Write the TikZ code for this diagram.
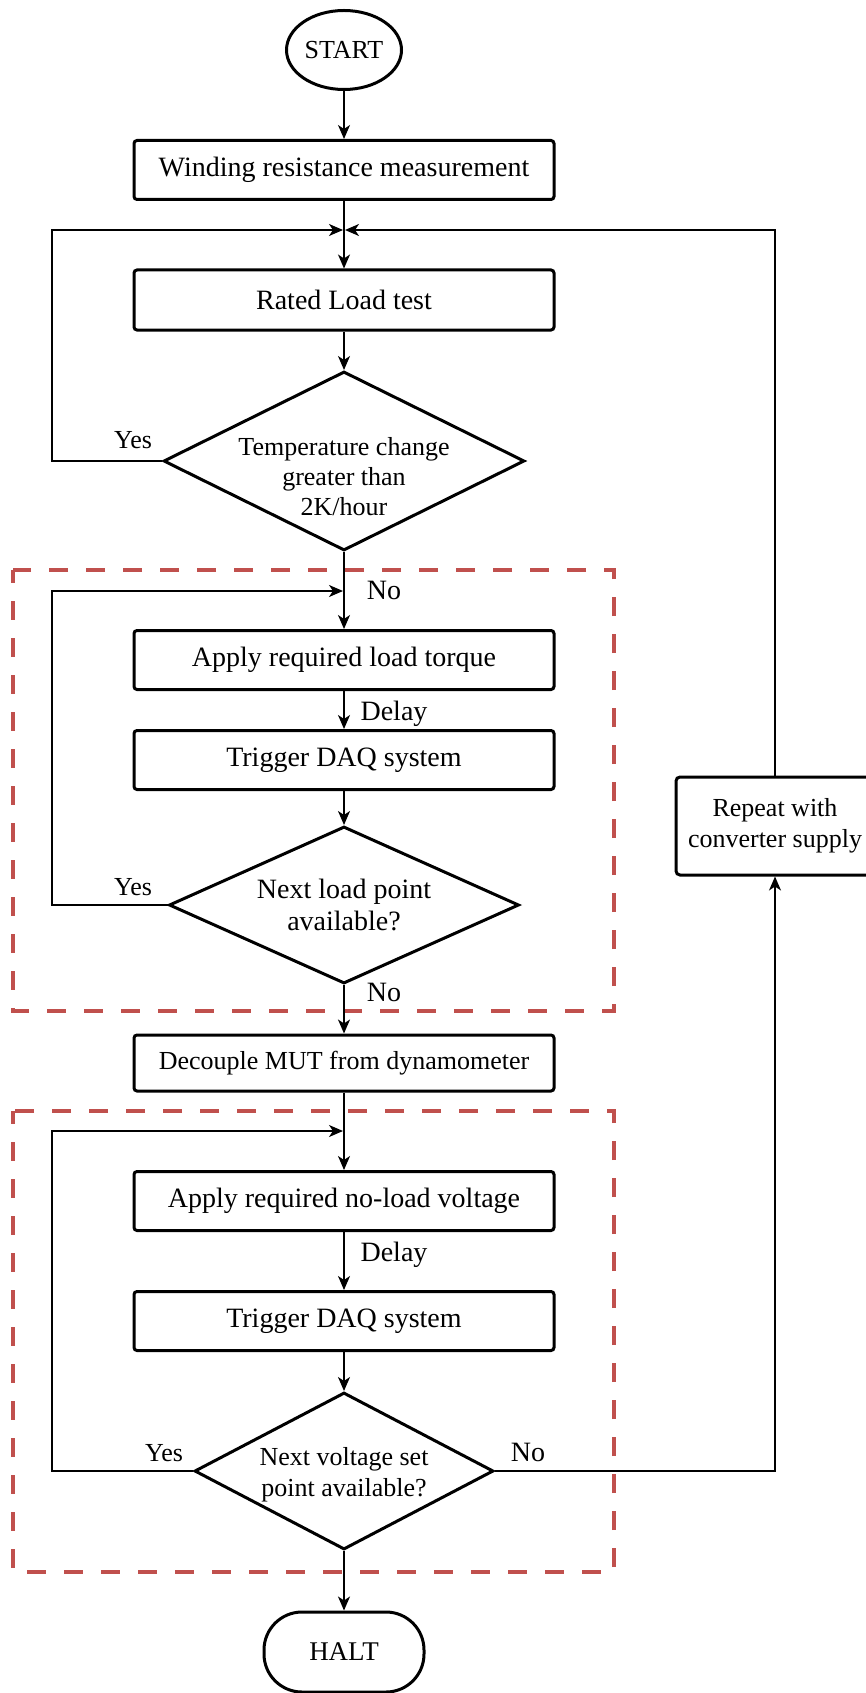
\documentclass[tikz,border=0pt]{standalone}
\usepackage{fontspec}
\setmainfont{Liberation Serif}
\usetikzlibrary{arrows.meta,shapes.geometric}
\definecolor{dashred}{HTML}{C0504D}
\begin{document}
\begin{tikzpicture}[x=1pt,y=-1pt,
  every node/.style={font=\fontsize{28}{32}\selectfont},
  procbox/.style={draw, line width=3pt, rounded corners=3pt, minimum width=420pt, minimum height=59pt, inner sep=0pt},
  decbox/.style={draw, diamond, line width=3pt, inner sep=0pt},
  dtext/.style={align=center, inner sep=0pt},
  small/.style={font=\fontsize{26}{31}\selectfont},
  conn/.style={line width=1.6pt, -{Stealth[length=14pt,width=12pt,inset=4pt]}},
  grp/.style={draw=dashred, line width=4.5pt, dash pattern=on 19pt off 18pt, dash phase=6pt},
  lbl/.style={anchor=base, inner sep=0pt},
  ]
\useasboundingbox (0,0) rectangle (865,1693);

% dashed groups
\draw[grp] (13,570) rectangle (614,1011);
\draw[grp] (13,1111) rectangle (614,1572);

% nodes
\node[draw, ellipse, line width=3pt, minimum width=115pt, minimum height=79pt, inner sep=0pt, small] (start) at (344,50) {START};
\node[procbox] (b1) at (344,170) {Winding resistance measurement};
\node[procbox, minimum height=60pt] (b2) at (344,300) {Rated Load test};
\node[decbox, minimum width=361pt, minimum height=179pt] (d1) at (344,461) {};
\node[dtext, font=\fontsize{26}{30}\selectfont] (t1) at (344,477) {Temperature change\\greater than\\2K/hour};
\node[procbox] (b3) at (344,660) {Apply required load torque};
\node[procbox] (b4) at (344,760) {Trigger DAQ system};
\node[decbox, minimum width=350pt, minimum height=157pt] (d2) at (344,905) {};
\node[dtext] (t2) at (344,905) {Next load point\\available?};
\node[procbox, minimum height=56pt, small] (b5) at (344,1063) {Decouple MUT from dynamometer};
\node[procbox] (b6) at (344,1201) {Apply required no-load voltage};
\node[procbox] (b7) at (344,1321) {Trigger DAQ system};
\node[decbox, minimum width=299pt, minimum height=157pt] (d3) at (344,1471) {};
\node[dtext, small] (t3) at (344,1475) {Next voltage set\\point available?};
\node[draw, line width=3pt, rounded corners=38pt, minimum width=160pt, minimum height=80pt, inner sep=0pt, font=\fontsize{27}{31}\selectfont] (halt) at (344,1652) {HALT};
\node[draw, line width=3pt, rounded corners=4pt, minimum width=198pt, minimum height=98pt, inner sep=0pt, align=center, small] (rep) at (775,826) {Repeat with\\converter supply};

% junction coordinates
\coordinate (j1) at (344,230);
\coordinate (j2) at (344,591);
\coordinate (j3) at (344,1131);
\coordinate (c1) at (52,230);
\coordinate (c3) at (52,591);
\coordinate (c4) at (52,1131);

% connectors
\draw[conn] (start) -- (b1);
\draw[conn] (b1) -- (b2);
\draw[conn] (b2) -- (d1);
\draw[conn, shorten >=1pt] (d1.west) -| (c1) -- (j1);
\draw[conn, shorten >=1pt] (rep.north) |- (j1);
\draw[conn] (d1.south) -- (b3);
\draw[conn, shorten >=1pt] (d2.west) -| (c3) -- (j2);
\draw[conn] (b3) -- (b4);
\draw[conn] (b4) -- (d2);
\draw[conn] (d2) -- (b5);
\draw[conn] (b5) -- (b6);
\draw[conn, shorten >=1pt] (d3.west) -| (c4) -- (j3);
\draw[conn] (b6) -- (b7);
\draw[conn] (b7) -- (d3);
\draw[conn] (d3) -- (halt);
\draw[conn] (d3.east) -| (rep.south);

% labels
\node[lbl, small] (y1) at (133,448) {Yes};
\node[lbl, small] (y2) at (133,895) {Yes};
\node[lbl, small] (y3) at (164,1461) {Yes};
\node[lbl] (n1) at (384,599) {No};
\node[lbl] (n2) at (384,1001) {No};
\node[lbl] (n3) at (528,1461) {No};
\node[lbl] (dl1) at (394,720) {Delay};
\node[lbl] (dl2) at (394,1261) {Delay};
\end{tikzpicture}
\end{document}
